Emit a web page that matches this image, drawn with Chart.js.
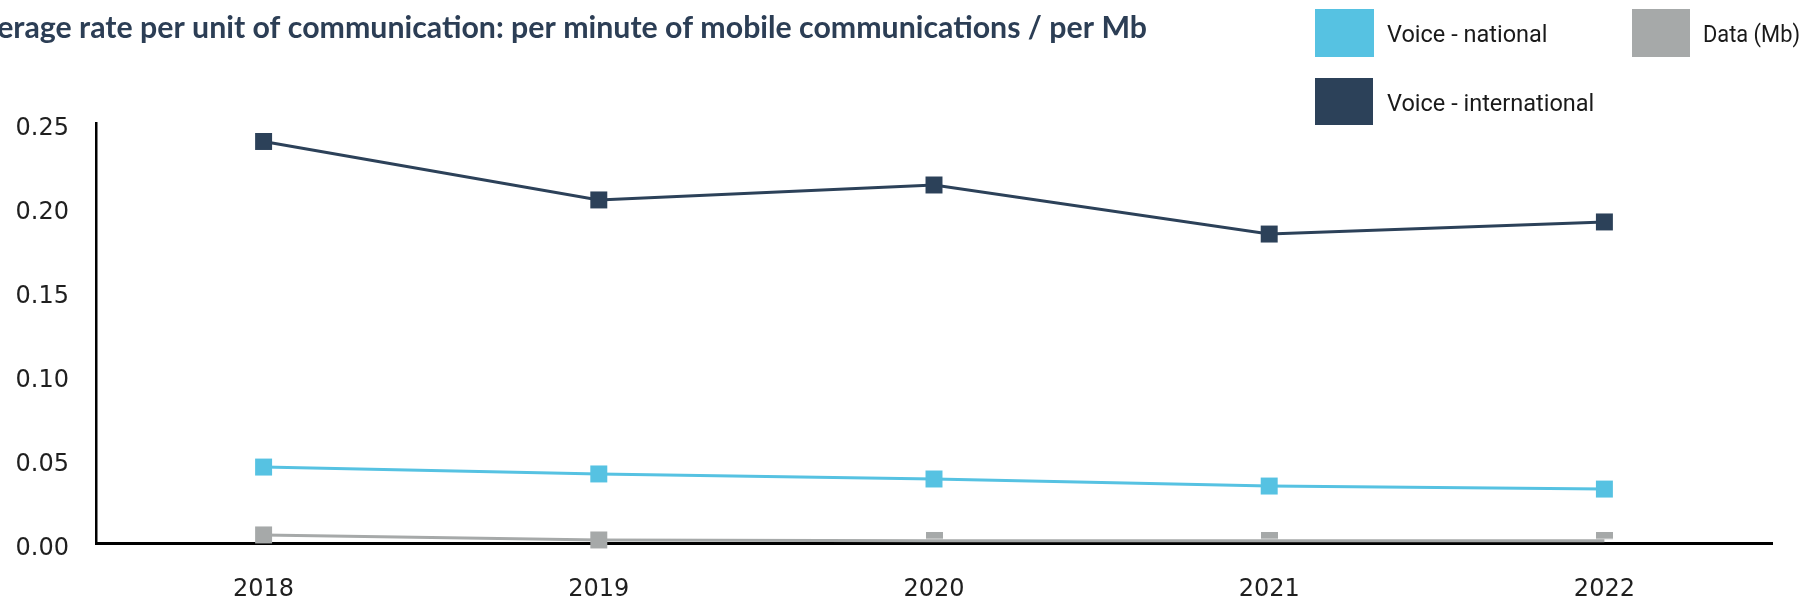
<!DOCTYPE html>
<html>
<head>
<meta charset="utf-8">
<script src="https://cdn.jsdelivr.net/npm/chart.js@4.4.1/dist/chart.umd.min.js"></script>
<style>
    html, body { margin: 0; padding: 0; background: #ffffff; }
    #wrap { width: 1804px; height: 605px; position: relative; }
</style>
</head>
<body>
<div id="wrap"><canvas id="rates" width="1804" height="605"></canvas></div>
<script>
const years = ['2018', '2019', '2020', '2021', '2022'];
const voiceNational = [0.0452, 0.0411, 0.0381, 0.0339, 0.0321];
const voiceInternational = [0.2390, 0.2042, 0.2131, 0.1839, 0.1911];
const dataMb = [0.0048, 0.0018, 0.0013, 0.0013, 0.0013];
const yTicks = [0, 0.05, 0.10, 0.15, 0.20, 0.25];

const chartTitle = 'Average rate per unit of communication: per minute of mobile communications / per Mb';

const colNational = '#56c2e2';
const colInternational = '#2c4159';
const colData = '#a6a9a9';

// the 2020-2022 data markers only show their upper part in the original
const halfMarker = document.createElement('canvas');
halfMarker.width = 17;
halfMarker.height = 17;
const hm = halfMarker.getContext('2d');
hm.fillStyle = colData;
hm.fillRect(0, 0, 17, 6.5);

const headerPlugin = {
    id: 'header',
    afterDraw(chart) {
        const ctx = chart.ctx;
        ctx.save();
        // title, cut off at the left edge like the original
        ctx.font = 'bold 30.3px Lato';
        ctx.fillStyle = '#2c3e55';
        ctx.textAlign = 'right';
        ctx.textBaseline = 'alphabetic';
        ctx.fillText(chartTitle, 1147, 38);

        // legend boxes
        const items = [
            { ds: 0, box: [1315, 9, 59, 48], tx: 1387, ty: 42, w: 163 },
            { ds: 2, box: [1632, 9, 58, 48], tx: 1703, ty: 42, w: 97 },
            { ds: 1, box: [1315, 78, 58, 47], tx: 1387, ty: 111, w: 211 }
        ];
        ctx.font = '23.5px Roboto';
        ctx.textAlign = 'left';
        items.forEach(it => {
            const ds = chart.data.datasets[it.ds];
            ctx.fillStyle = ds.borderColor;
            ctx.fillRect(it.box[0], it.box[1], it.box[2], it.box[3]);
            ctx.fillStyle = '#1a1a1a';
            ctx.fillText(ds.label, it.tx, it.ty, it.w);
        });
        ctx.restore();
    }
};

const ctx = document.getElementById('rates').getContext('2d');

const ratesChart = new Chart(ctx, {
    type: 'line',
    data: {
        labels: years,
        datasets: [{
            label: 'Voice - national',
            data: voiceNational,
            borderColor: colNational,
            backgroundColor: colNational,
            borderWidth: 3,
            pointStyle: 'rect',
            pointRadius: 12,
            pointBorderWidth: 0,
            tension: 0
        }, {
            label: 'Voice - international',
            data: voiceInternational,
            borderColor: colInternational,
            backgroundColor: colInternational,
            borderWidth: 3,
            pointStyle: 'rect',
            pointRadius: 12,
            pointBorderWidth: 0,
            tension: 0
        }, {
            label: 'Data (Mb)',
            data: dataMb,
            borderColor: colData,
            backgroundColor: colData,
            borderWidth: 3,
            pointStyle: (c) => c.dataIndex >= 2 ? halfMarker : 'rect',
            pointRadius: 12,
            pointBorderWidth: 0,
            tension: 0,
            clip: false
        }]
    },
    options: {
        responsive: false,
        animation: false,
        layout: {
            padding: { left: 16, right: 32, top: 123, bottom: 3 }
        },
        plugins: {
            legend: { display: false },
            title: { display: false },
            tooltip: { enabled: false }
        },
        scales: {
            x: {
                offset: true,
                grid: { display: false, drawTicks: false, offset: true },
                border: { display: true, color: '#000000', width: 3 },
                ticks: {
                    padding: 35,
                    color: '#1f1f1f',
                    font: { family: 'DejaVu Sans', size: 24, lineHeight: 1 }
                },
                afterFit: (axis) => { axis.height = 59; }
            },
            y: {
                min: 0,
                max: 0.25,
                afterBuildTicks: (axis) => {
                    axis.ticks = yTicks.map(v => ({ value: v }));
                },
                grid: { display: false, drawTicks: false },
                border: { display: true, color: '#000000', width: 2.5 },
                ticks: {
                    padding: 27,
                    labelOffset: 5.5,
                    color: '#1f1f1f',
                    font: { family: 'DejaVu Sans', size: 24 },
                    callback: (value) => Number(value).toFixed(2)
                },
                afterFit: (axis) => { axis.width = 80; }
            }
        }
    },
    plugins: [headerPlugin]
});
</script>
</body>
</html>
